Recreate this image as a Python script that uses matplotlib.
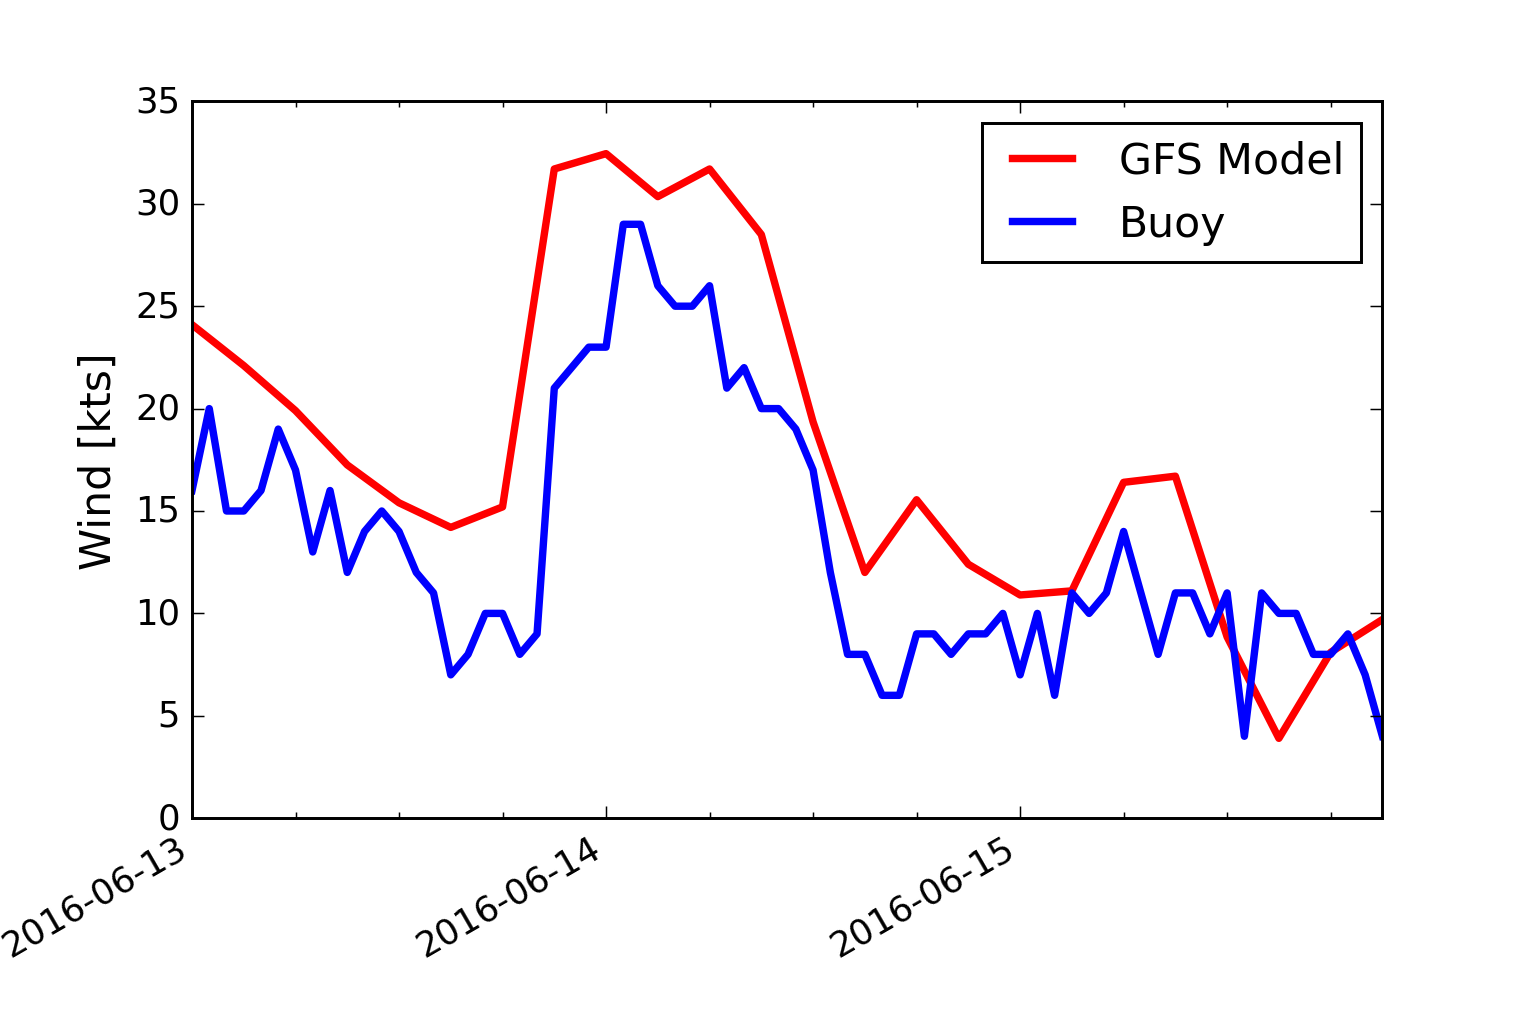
import numpy as np
import pandas as pd
import matplotlib
matplotlib.use("Agg")
import matplotlib.pyplot as plt
import matplotlib.dates as mdates

# GFS model forecast, every 3 hours from 2016-06-13 00:00
gfs_times = pd.date_range("2016-06-13 00:00", "2016-06-15 21:00", freq="3h")
gfs_wind = [24.1, 22.1, 19.9, 17.25, 15.4, 14.2, 15.2, 31.7,
            32.45, 30.35, 31.7, 28.5, 19.35, 12.0, 15.55, 12.4,
            10.9, 11.1, 16.4, 16.7, 8.85, 3.9, 8.1, 9.7]

# Buoy observations, hourly
buoy_times = pd.date_range("2016-06-13 00:00", "2016-06-15 21:00", freq="1h")
buoy_wind = [16, 20, 15, 15, 16, 19, 17, 13, 16, 12, 14, 15,
             14, 12, 11, 7, 8, 10, 10, 8, 9, 21, 22, 23,
             23, 29, 29, 26, 25, 25, 26, 21, 22, 20, 20, 19,
             17, 12, 8, 8, 6, 6, 9, 9, 8, 9, 9, 10,
             7, 10, 6, 11, 10, 11, 14, 11, 8, 11, 11, 9,
             11, 4, 11, 10, 10, 8, 8, 9, 7, 4]

plt.style.use("classic")
fig, ax = plt.subplots(figsize=(7.2, 4.8))
ax.plot(gfs_times, gfs_wind, color="r", lw=2.5, label="GFS Model")
ax.plot(buoy_times, buoy_wind, color="b", lw=2.5, label="Buoy")
ax.set_ylabel("Wind [kts]", fontsize="large")
ax.xaxis.set_major_locator(mdates.DayLocator())
ax.xaxis.set_major_formatter(mdates.DateFormatter("%Y-%m-%d"))
ax.xaxis.set_minor_locator(mdates.HourLocator(byhour=range(0, 24, 6)))
ax.set_xlim(gfs_times[0], gfs_times[-1])
ax.set_ylim(0, 35)
ax.legend(loc="upper right")
fig.autofmt_xdate()
fig.savefig("out.png", dpi=1536 / 7.2, facecolor="white")
